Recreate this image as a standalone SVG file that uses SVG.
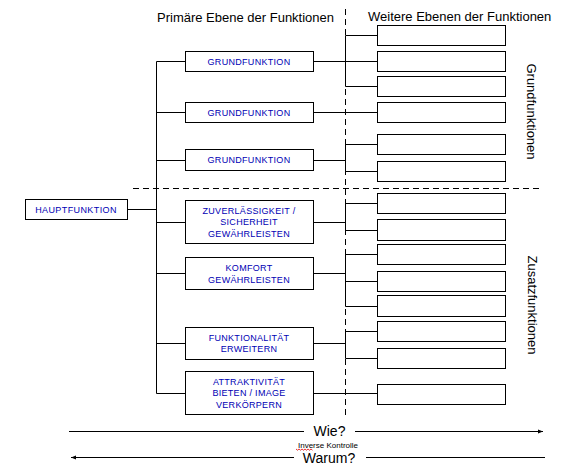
<svg xmlns="http://www.w3.org/2000/svg" width="585" height="466" viewBox="0 0 585 466">
<style>
.box{fill:#fff;stroke:#000;stroke-width:1}
.ln{fill:none;stroke:#000;stroke-width:1}
.dash{fill:none;stroke:#000;stroke-width:1;stroke-dasharray:6 4}
.bt{font-family:"Liberation Sans",Arial,sans-serif;font-size:9px;fill:#0000b4;text-anchor:middle;letter-spacing:0.3px}
.hd{font-family:"Liberation Sans",Arial,sans-serif;font-size:13px;fill:#000}
.ax{font-family:"Liberation Sans",Arial,sans-serif;font-size:14px;fill:#000;text-anchor:middle}
.sm{font-family:"Liberation Sans",Arial,sans-serif;font-size:8px;fill:#000;text-anchor:middle}
</style>
<defs>
<marker id="ah" markerWidth="6" markerHeight="6" refX="5" refY="3" orient="auto" markerUnits="userSpaceOnUse">
<path d="M0,1 L5,3 L0,5 Z" fill="#000"/>
</marker>
</defs>
<rect width="585" height="466" fill="#fff"/>

<g id="guides">
<path class="dash" d="M133,188.5 H542"/>
<path class="dash" d="M345.5,9 V418"/>
</g>

<g id="headers">
<text class="hd" x="157" y="21.5">Primäre Ebene der Funktionen</text>
<text class="hd" x="368" y="21">Weitere Ebenen der Funktionen</text>
<text class="hd" text-anchor="middle" transform="translate(527,111.5) rotate(90)">Grundfunktionen</text>
<text class="hd" text-anchor="middle" transform="translate(528,305) rotate(90)">Zusatzfunktionen</text>
</g>

<g id="connectors">
<path class="ln" d="M127.5,209.5 H156.5 M156.5,61.5 V393.5"/>
<path class="ln" d="M156.5,61.5 H185.5 M156.5,112.5 H185.5 M156.5,160.5 H185.5 M156.5,222.5 H185.5 M156.5,273.5 H185.5 M156.5,343.5 H185.5 M156.5,393.5 H185.5"/>
<path class="ln" d="M313.5,61.5 H345.5 M345.5,35.5 V86.5 M345.5,35.5 H377.5 M345.5,61.5 H377.5 M345.5,86.5 H377.5"/>
<path class="ln" d="M313.5,112.5 H377.5"/>
<path class="ln" d="M313.5,160.5 H345.5 M345.5,144.5 V171.5 M345.5,144.5 H377.5 M345.5,171.5 H377.5"/>
<path class="ln" d="M313.5,222.5 H345.5 M345.5,203.5 V230.5 M345.5,203.5 H377.5 M345.5,230.5 H377.5"/>
<path class="ln" d="M313.5,273.5 H345.5 M345.5,254.5 V306.5 M345.5,254.5 H377.5 M345.5,281.5 H377.5 M345.5,306.5 H377.5"/>
<path class="ln" d="M313.5,343.5 H345.5 M345.5,331.5 V358.5 M345.5,331.5 H377.5 M345.5,358.5 H377.5"/>
<path class="ln" d="M313.5,393.5 H377.5"/>
</g>

<g id="hauptfunktion">
<rect class="box" x="25.5" y="199.5" width="102" height="20"/>
<text class="bt" x="76" y="212.7" style="letter-spacing:0.4px">HAUPTFUNKTION</text>
</g>

<g id="grundfunktion1">
<rect class="box" x="185.5" y="51.5" width="128" height="20"/>
<text class="bt" x="249" y="64.5">GRUNDFUNKTION</text>
</g>
<g id="grundfunktion2">
<rect class="box" x="185.5" y="102.5" width="128" height="20"/>
<text class="bt" x="249" y="115.5">GRUNDFUNKTION</text>
</g>
<g id="grundfunktion3">
<rect class="box" x="185.5" y="149.5" width="128" height="21"/>
<text class="bt" x="249" y="163">GRUNDFUNKTION</text>
</g>
<g id="zuverlaessigkeit">
<rect class="box" x="185.5" y="200.5" width="128" height="43"/>
<text class="bt" x="249" y="213.5">ZUVERLÄSSIGKEIT /</text>
<text class="bt" x="249" y="225">SICHERHEIT</text>
<text class="bt" x="249" y="236.5">GEWÄHRLEISTEN</text>
</g>
<g id="komfort">
<rect class="box" x="185.5" y="257.5" width="128" height="32"/>
<text class="bt" x="249" y="270.7">KOMFORT</text>
<text class="bt" x="249" y="282.5">GEWÄHRLEISTEN</text>
</g>
<g id="funktionalitaet">
<rect class="box" x="185.5" y="327.5" width="128" height="32"/>
<text class="bt" x="249" y="340.7">FUNKTIONALITÄT</text>
<text class="bt" x="249" y="351.9">ERWEITERN</text>
</g>
<g id="attraktivitaet">
<rect class="box" x="185.5" y="371.5" width="128" height="43"/>
<text class="bt" x="249" y="385">ATTRAKTIVITÄT</text>
<text class="bt" x="249" y="396.3">BIETEN / IMAGE</text>
<text class="bt" x="249" y="407.5">VERKÖRPERN</text>
</g>

<g id="weitere">
<rect class="box" x="377.5" y="25.5" width="128" height="20"/>
<rect class="box" x="377.5" y="51.5" width="128" height="20"/>
<rect class="box" x="377.5" y="76.5" width="128" height="20"/>
<rect class="box" x="377.5" y="102.5" width="128" height="20"/>
<rect class="box" x="377.5" y="134.5" width="128" height="20"/>
<rect class="box" x="377.5" y="161.5" width="128" height="20"/>
<rect class="box" x="377.5" y="193.5" width="128" height="20"/>
<rect class="box" x="377.5" y="219.5" width="128" height="21"/>
<rect class="box" x="377.5" y="244.5" width="128" height="20"/>
<rect class="box" x="377.5" y="271.5" width="128" height="20"/>
<rect class="box" x="377.5" y="295.5" width="128" height="21"/>
<rect class="box" x="377.5" y="321.5" width="128" height="20"/>
<rect class="box" x="377.5" y="348.5" width="128" height="20"/>
<rect class="box" x="377.5" y="384.5" width="128" height="20"/>
</g>

<g id="axes">
<path class="ln" d="M69,431.5 H304"/>
<path class="ln" d="M355,431.5 H543" marker-end="url(#ah)"/>
<text class="ax" x="329.5" y="436">Wie?</text>
<path class="ln" d="M294,457.5 H71" marker-end="url(#ah)"/>
<path class="ln" d="M366,457.5 H545"/>
<text class="ax" x="329" y="462.5">Warum?</text>
<text class="sm" x="328" y="447.5">Inverse Kontrolle</text>
<path d="M296,449 l1.5,1.2 l1.5,-1.2 l1.5,1.2 l1.5,-1.2 l1.5,1.2 l1.5,-1.2 l1.5,1.2 l1.5,-1.2 l1.5,1.2 l1.5,-1.2 l1.5,1.2" fill="none" stroke="#e00000" stroke-width="0.8"/>
</g>
</svg>
